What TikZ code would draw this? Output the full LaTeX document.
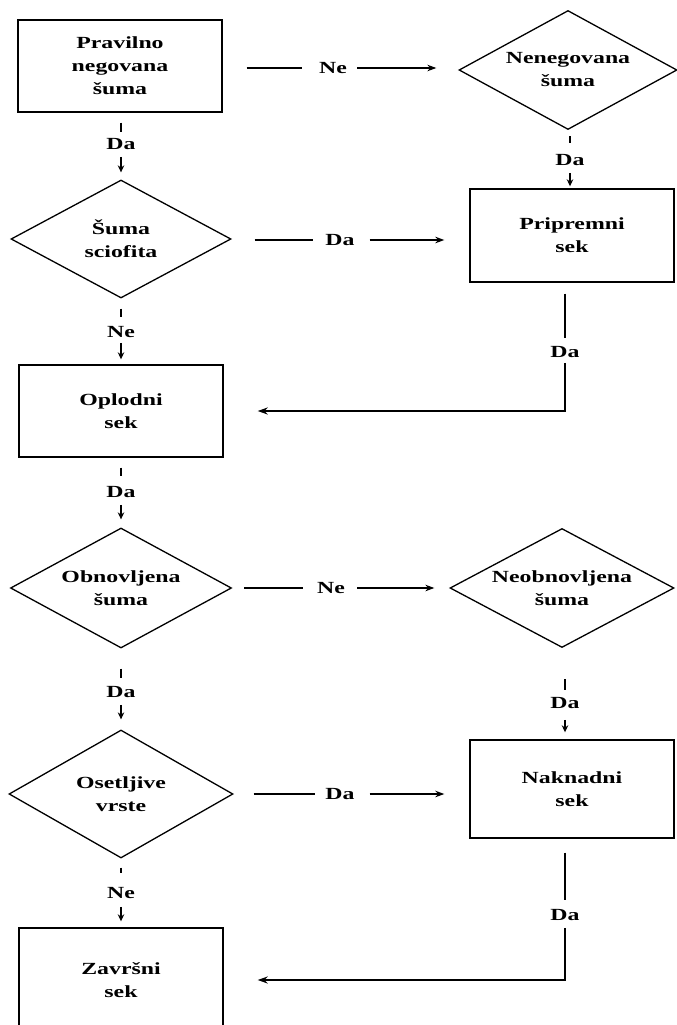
\documentclass[tikz,border=0pt]{standalone}
\usepackage{fontspec}
\setmainfont[FakeStretch=1.4]{Liberation Serif}
\usetikzlibrary{shapes.geometric,arrows.meta}
\begin{document}
\begin{tikzpicture}[x=1pt,y=-1pt,
  font=\fontsize{17}{23}\selectfont\bfseries,
  boxnode/.style={draw, line width=1.4pt, rectangle, align=center, inner sep=0pt, minimum width=204pt},
  decnode/.style={draw, line width=1.3pt, diamond, aspect=1.85, align=center, inner sep=0pt},
  lab/.style={inner sep=0pt, text height=11.5pt, text depth=0pt},
  dashseg/.style={line width=2.2pt},
  varrow/.style={line width=1.5pt, -{Stealth[length=7pt,width=6.5pt]}},
  harrow/.style={line width=1.3pt, -{Stealth[length=9pt,width=6.5pt]}},
  hline/.style={line width=1.3pt},
  longline/.style={line width=2.2pt, line join=miter}]
\useasboundingbox (0,0) rectangle (677,1025);

% nodes
\node[boxnode, minimum height=92pt] (b1) at (120,66) {Pravilno\\negovana\\šuma};
\node[decnode, minimum width=218pt, minimum height=119pt] (d2) at (568,70) {Nenegovana\\šuma};
\node[decnode, minimum width=220pt, minimum height=118pt] (d1) at (121,239) {Šuma\\sciofita};
\node[boxnode, minimum height=93pt] (b2) at (572,235.5) {Pripremni\\sek};
\node[boxnode, minimum height=92pt] (b3) at (121,411) {Oplodni\\sek};
\node[decnode, minimum width=221pt, minimum height=120pt] (d3) at (121,588) {Obnovljena\\šuma};
\node[decnode, minimum width=224pt, minimum height=119pt] (d5) at (562,588) {Neobnovljena\\šuma};
\node[decnode, minimum width=224pt, minimum height=128pt] (d4) at (121,794) {Osetljive\\vrste};
\node[boxnode, minimum height=98pt] (b4) at (572,789) {Naknadni\\sek};
\node[boxnode, minimum height=104pt] (b5) at (121,980) {Završni\\sek};

% labels
\node[lab] (l1) at (121,144) {Da};
\node[lab] (l2) at (570,160) {Da};
\node[lab] (l3) at (121,332) {Ne};
\node[lab] (l4) at (121,492) {Da};
\node[lab] (l5) at (121,692) {Da};
\node[lab] (l6) at (565,703) {Da};
\node[lab] (l7) at (121,893) {Ne};
\node[lab] (l8) at (565,352) {Da};
\node[lab] (l9) at (565,915) {Da};
\node[lab] (ha) at (333,68) {Ne};
\node[lab] (hb) at (340,240) {Da};
\node[lab] (hc) at (331,588) {Ne};
\node[lab] (hd) at (340,794) {Da};

% vertical connectors
\draw[dashseg, shorten <=10pt, shorten >=6pt] (l1 |- b1.south) -- (l1.north);
\draw[varrow, shorten <=7pt, shorten >=7pt] (l1.south) -- (l1 |- d1.north);

\draw[dashseg, shorten <=6pt, shorten >=11pt] (l2 |- d2.south) -- (l2.north);
\draw[varrow, shorten <=7pt, shorten >=2pt] (l2.south) -- (l2 |- b2.north);

\draw[dashseg, shorten <=10pt, shorten >=9pt] (l3 |- d1.south) -- (l3.north);
\draw[varrow, shorten <=5pt, shorten >=5pt] (l3.south) -- (l3 |- b3.north);

\draw[dashseg, shorten <=10pt, shorten >=10pt] (l4 |- b3.south) -- (l4.north);
\draw[varrow, shorten <=7pt, shorten >=8pt] (l4.south) -- (l4 |- d3.north);

\draw[dashseg, shorten <=20pt, shorten >=8pt] (l5 |- d3.south) -- (l5.north);
\draw[varrow, shorten <=7pt, shorten >=10pt] (l5.south) -- (l5 |- d4.north);

\draw[dashseg, shorten <=31pt, shorten >=7pt] (l6 |- d5.south) -- (l6.north);
\draw[varrow, shorten <=11pt, shorten >=7pt] (l6.south) -- (l6 |- b4.north);

\draw[dashseg, shorten <=9pt, shorten >=14pt] (l7 |- d4.south) -- (l7.north);
\draw[varrow, shorten <=8pt, shorten >=6pt] (l7.south) -- (l7 |- b5.north);

% long return connectors
\draw[longline, shorten <=11pt, shorten >=8pt] (l8 |- b2.south) -- (l8.north);
\draw[longline, -{Stealth[length=10pt,width=7pt]}, shorten <=5pt, shorten >=34pt] (l8.south) -- (l8 |- b3.east) -- (b3.east);

\draw[longline, shorten <=14pt, shorten >=9pt] (l9 |- b4.south) -- (l9.north);
\draw[longline, -{Stealth[length=10pt,width=7pt]}, shorten <=7pt, shorten >=34pt] (l9.south) -- (l9 |- b5.east) -- (b5.east);

% horizontal connectors
\draw[hline, shorten <=24pt, shorten >=17pt] (b1.east |- ha) -- (ha.west);
\draw[harrow, shorten <=10pt, shorten >=22pt] (ha.east) -- (d2.west |- ha);

\draw[hline, shorten <=23pt, shorten >=12pt] (d1.east |- hb) -- (hb.west);
\draw[harrow, shorten <=15pt, shorten >=25pt] (hb.east) -- (b2.west |- hb);

\draw[hline, shorten <=12pt, shorten >=14pt] (d3.east |- hc) -- (hc.west);
\draw[harrow, shorten <=12pt, shorten >=15pt] (hc.east) -- (d5.west |- hc);

\draw[hline, shorten <=20pt, shorten >=10pt] (d4.east |- hd) -- (hd.west);
\draw[harrow, shorten <=15pt, shorten >=25pt] (hd.east) -- (b4.west |- hd);
\end{tikzpicture}
\end{document}
